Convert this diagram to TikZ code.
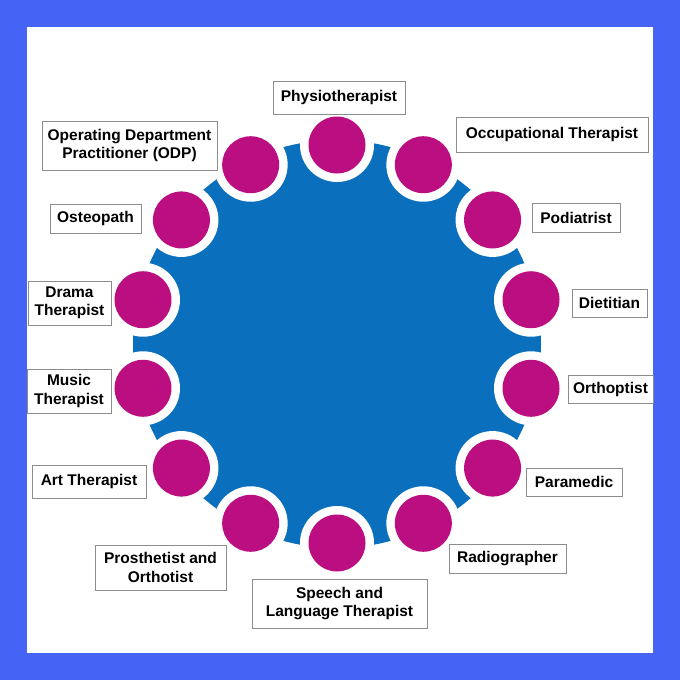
\documentclass[tikz,border=0pt]{standalone}
\usepackage{fontspec}
\setmainfont{Liberation Sans}
\definecolor{frameblue}{HTML}{4563F5}
\definecolor{hubblue}{HTML}{0A6FBD}
\definecolor{dotmag}{HTML}{BB0E80}
\definecolor{boxgray}{HTML}{8C8C8C}
\tikzset{
  lbl/.style={draw=boxgray, line width=0.9pt, fill=white, inner sep=0pt, align=center,
    font=\fontsize{15.5}{18.5}\selectfont\bfseries},
  ring/.style={circle, fill=white, minimum size=74pt, inner sep=0pt},
  dot/.style={circle, fill=dotmag, minimum size=57pt, inner sep=0pt}
}
\begin{document}
\begin{tikzpicture}[x=1pt,y=-1pt]
\useasboundingbox (0,0) rectangle (680,680);
\fill[frameblue] (0,0) rectangle (680,680);
\fill[white] (27,27) rectangle (653,653);
\node[circle, fill=hubblue, minimum size=408pt, inner sep=0pt] (hub) at (337,344) {};
\foreach \i in {0,...,13}{
  \pgfmathsetmacro{\a}{90+\i*360/14}
  \node[ring] (r\i) at ({337+199*cos(\a)},{344-199*sin(\a)}) {};
  \node[dot] (c\i) at (r\i) {};
}
\node[lbl, minimum width=132pt, minimum height=33pt] (l0) at (339,97.5) {Physiotherapist};
\node[lbl, minimum width=192pt, minimum height=35pt] (l13) at (552,134.5) {Occupational Therapist};
\node[lbl, minimum width=88pt, minimum height=29pt] (l12) at (576,217.5) {Podiatrist};
\node[lbl, minimum width=75pt, minimum height=28pt] (l11) at (609.5,303) {Dietitian};
\node[lbl, minimum width=85pt, minimum height=28pt] (l10) at (610.5,389) {Orthoptist};
\node[lbl, minimum width=96pt, minimum height=28pt] (l9) at (574,482) {Paramedic};
\node[lbl, minimum width=117pt, minimum height=29pt] (l8) at (507.5,558.5) {Radiographer};
\node[lbl, minimum width=175pt, minimum height=49pt] (l7) at (339.5,603.5) {Speech and\\Language Therapist};
\node[lbl, minimum width=131pt, minimum height=45pt] (l6) at (160.5,567.5) {Prosthetist and\\Orthotist};
\node[lbl, minimum width=114pt, minimum height=33pt] (l5) at (89,481.5) {Art Therapist};
\node[lbl, minimum width=84pt, minimum height=44pt] (l4) at (69,391) {Music\\Therapist};
\node[lbl, minimum width=83pt, minimum height=44pt] (l3) at (69.5,303) {Drama\\Therapist};
\node[lbl, minimum width=91pt, minimum height=29pt] (l2) at (95.5,218.5) {Osteopath};
\node[lbl, minimum width=175pt, minimum height=49pt] (l1) at (129.5,145.5) {Operating Department\\Practitioner (ODP)};
\end{tikzpicture}
\end{document}
